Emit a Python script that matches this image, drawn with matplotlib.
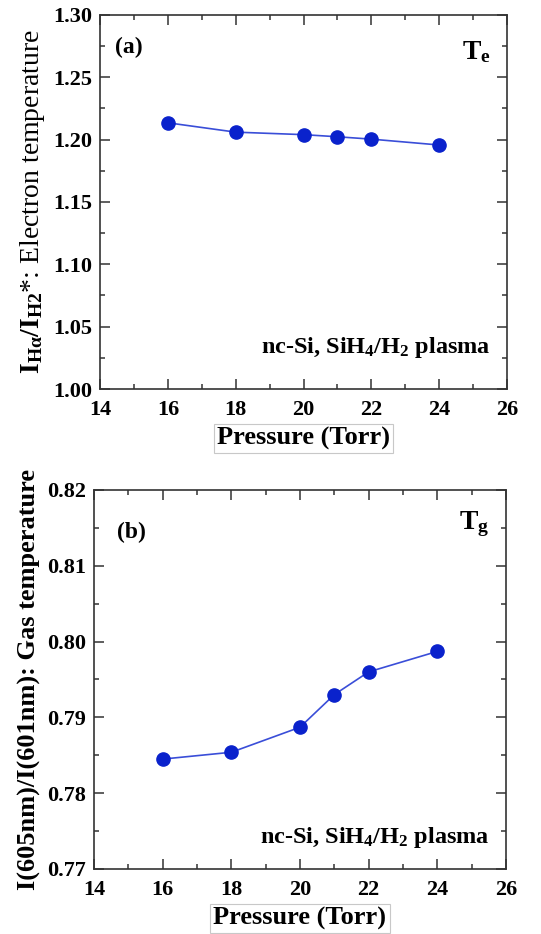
import matplotlib
matplotlib.use("Agg")
import matplotlib.pyplot as plt
from matplotlib.ticker import MultipleLocator, FormatStrFormatter

plt.rcParams['font.family'] = ['Liberation Serif', 'DejaVu Serif']
plt.rcParams['mathtext.fontset'] = 'custom'
plt.rcParams['mathtext.rm'] = 'Liberation Serif'
plt.rcParams['mathtext.bf'] = 'Liberation Serif:bold'
plt.rcParams['mathtext.it'] = 'Liberation Serif:italic'

# Pressure series (Torr)
pressure = [16, 18, 20, 21, 22, 24]
# Electron-temperature line ratio I(Ha)/I(H2*)
te_ratio = [1.2135, 1.2060, 1.2040, 1.2023, 1.2004, 1.1957]
# Gas-temperature line ratio I(605nm)/I(601nm)
tg_ratio = [0.7845, 0.7854, 0.7887, 0.7930, 0.7960, 0.7987]

x_ticks = [14, 16, 18, 20, 22, 24, 26]

marker_color = '#0a22cc'
line_color = '#3a4ed8'
spine_color = '#333333'

fig = plt.figure(figsize=(5.41, 9.34), dpi=100)
ax1 = fig.add_axes([0.185, 0.5835, 0.752, 0.4005])
ax2 = fig.add_axes([0.174, 0.0696, 0.761, 0.4058])


def style_axes(ax, ymin, ymax, ymajor, yminor, yfmt):
    ax.set_xlim(14, 26)
    ax.set_ylim(ymin, ymax)
    ax.set_xticks(x_ticks)
    ax.xaxis.set_minor_locator(MultipleLocator(1))
    ax.yaxis.set_major_locator(MultipleLocator(ymajor))
    ax.yaxis.set_minor_locator(MultipleLocator(yminor))
    ax.yaxis.set_major_formatter(FormatStrFormatter(yfmt))
    ax.tick_params(which='both', direction='in', top=True, right=True,
                   color=spine_color, width=1.1)
    ax.tick_params(which='major', length=7)
    ax.tick_params(which='minor', length=3.5)
    ax.tick_params(axis='x', which='major', pad=8)
    ax.tick_params(axis='y', which='major', pad=6)
    for lab in ax.get_xticklabels() + ax.get_yticklabels():
        lab.set_fontsize(16)
        lab.set_fontweight('bold')
    for sp in ax.spines.values():
        sp.set_color(spine_color)
        sp.set_linewidth(1.2)
    ax.set_xlabel('Pressure (Torr)', fontsize=19, fontweight='bold',
                  labelpad=5,
                  bbox=dict(boxstyle='square,pad=0.12', facecolor='white',
                            edgecolor='#c8c8c8', linewidth=0.8))


# Panel (a): electron temperature
ax1.plot(pressure, te_ratio, '-', color=line_color, lw=1.2, zorder=2)
ax1.plot(pressure, te_ratio, 'o', color=marker_color, ms=9.5, zorder=3)
style_axes(ax1, 1.00, 1.30, 0.05, 0.025, '%.2f')
ax1.set_ylabel(r'$\mathbf{I_{H\alpha}/I_{H2}}$*: Electron temperature',
               fontsize=20, labelpad=4)
ax1.text(0.037, 0.912, '(a)', transform=ax1.transAxes, fontsize=17,
         fontweight='bold', va='center', ha='left')
ax1.text(0.96, 0.90, r'$\mathbf{T_e}$', transform=ax1.transAxes,
         fontsize=20, va='center', ha='right')
ax1.text(0.96, 0.112, r'nc-Si, SiH$_\mathbf{4}$/H$_\mathbf{2}$ plasma',
         transform=ax1.transAxes, fontsize=17.5, fontweight='bold',
         va='center', ha='right')

# Panel (b): gas temperature
ax2.plot(pressure, tg_ratio, '-', color=line_color, lw=1.2, zorder=2)
ax2.plot(pressure, tg_ratio, 'o', color=marker_color, ms=9.5, zorder=3)
style_axes(ax2, 0.77, 0.82, 0.01, 0.005, '%.2f')
ax2.set_ylabel('I(605nm)/I(601nm): Gas temperature', fontsize=19,
               fontweight='bold', labelpad=4)
ax2.text(0.056, 0.889, '(b)', transform=ax2.transAxes, fontsize=17,
         fontweight='bold', va='center', ha='left')
ax2.text(0.96, 0.91, r'$\mathbf{T_g}$', transform=ax2.transAxes,
         fontsize=20, va='center', ha='right')
ax2.text(0.96, 0.082, r'nc-Si, SiH$_\mathbf{4}$/H$_\mathbf{2}$ plasma',
         transform=ax2.transAxes, fontsize=17.5, fontweight='bold',
         va='center', ha='right')

fig.savefig('out.png', dpi=100)
